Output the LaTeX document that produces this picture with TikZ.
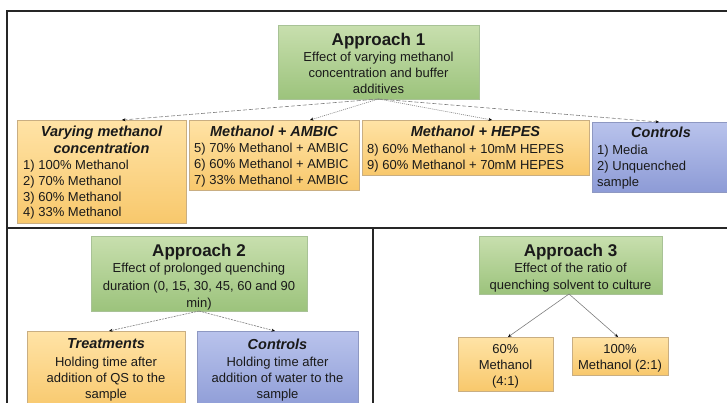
\documentclass[tikz,border=0pt]{standalone}
\usepackage{fontspec}
\setmainfont{Liberation Sans}
\usetikzlibrary{arrows.meta,calc}
\definecolor{gtop}{HTML}{C8DFAE}
\definecolor{gbot}{HTML}{9CC37C}
\definecolor{gbrd}{HTML}{A8C296}
\definecolor{otop}{HTML}{FFE3A6}
\definecolor{obot}{HTML}{F8C86C}
\definecolor{obrd}{HTML}{C9AE82}
\definecolor{btop}{HTML}{B9C3EC}
\definecolor{bbot}{HTML}{8D9BD6}
\definecolor{bbrd}{HTML}{8E98C2}
\definecolor{lnc}{HTML}{7E7E7E}
\definecolor{txt}{HTML}{1A1A1A}
\begin{document}
\begin{tikzpicture}[x=1pt,y=-1pt,
  boxbase/.style={rectangle,inner sep=0pt,outer sep=0pt,line width=0.6pt,anchor=north west},
  gbox/.style={boxbase,draw=gbrd,top color=gtop,bottom color=gbot},
  obox/.style={boxbase,draw=obrd,top color=otop,bottom color=obot},
  bbox/.style={boxbase,draw=bbrd,top color=btop,bottom color=bbot},
  apptitle/.style={anchor=north,inner sep=0pt,text=txt,font=\bfseries\fontsize{17}{20}\selectfont},
  boxtitle/.style={anchor=north,inner sep=0pt,text=txt,align=center,font=\bfseries\itshape\fontsize{14.5}{17}\selectfont},
  ctext/.style={anchor=north,inner sep=0pt,text=txt,align=center,font=\fontsize{13}{16}\selectfont},
  ltext/.style={anchor=north west,inner sep=0pt,text=txt,align=left,font=\fontsize{13}{15.7}\selectfont},
  tip/.style={-{Stealth[length=3.5pt,width=3pt,color=black]},color=lnc,line width=0.6pt},
  longdash/.style={tip,dash pattern=on 4pt off 2pt},
  dotline/.style={tip,dash pattern=on 1pt off 1pt},
  finedash/.style={tip,dash pattern=on 2pt off 1pt},
  frame/.style={draw=black!85,line width=1.5pt}
]
\useasboundingbox (0,0) rectangle (727,402);
\clip (0,0) rectangle (727,402);

% frame
\draw[frame] (730,11) -- (7,11) -- (7,405);
\draw[frame,line width=2.5pt] (7,228) -- (730,228);
\draw[frame] (373,228) -- (373,405);

% Approach 1
\node[gbox,minimum width=201pt,minimum height=74pt] (a1) at (278,25) {};
\node[apptitle] (a1t) at (378.5,32.5) {Approach 1};
\node[ctext] (a1b) at (378.5,52) {Effect of varying methanol\\concentration and buffer\\additives};

\node[obox,minimum width=169pt,minimum height=103pt] (b1) at (17,120) {};
\node[boxtitle] (b1t) at (101.5,126) {Varying methanol\\concentration};
\node[ltext] (b1b) at (23,160) {1) 100\% Methanol\\2) 70\% Methanol\\3) 60\% Methanol\\4) 33\% Methanol};

\node[obox,minimum width=170pt,minimum height=70pt] (b2) at (189,120) {};
\node[boxtitle] (b2t) at (274,126) {Methanol + AMBIC};
\node[ltext] (b2b) at (194,143) {5) 70\% Methanol + AMBIC\\6) 60\% Methanol + AMBIC\\7) 33\% Methanol + AMBIC};

\node[obox,minimum width=227pt,minimum height=55pt] (b3) at (362,120) {};
\node[boxtitle] (b3t) at (475.5,126) {Methanol + HEPES};
\node[ltext] (b3b) at (367,144) {8) 60\% Methanol + 10mM HEPES\\9) 60\% Methanol + 70mM HEPES};

\node[bbox,minimum width=140pt,minimum height=70pt] (b4) at (592,122) {};
\node[boxtitle] (b4t) at (661,127) {Controls};
\node[ltext] (b4b) at (597,145) {1) Media\\2) Unquenched\\sample};

\draw[longdash] (a1.south) -- ([xshift=20.5pt]b1.north);
\draw[dotline] (a1.south) -- ([xshift=36pt]b2.north);
\draw[dotline] (a1.south) -- ([xshift=16.5pt]b3.north);
\draw[longdash] (a1.south) -- ([xshift=-3pt]b4.north);

% Approach 2
\node[gbox,minimum width=216pt,minimum height=75pt] (a2) at (91,236) {};
\node[apptitle] (a2t) at (199,243.5) {Approach 2};
\node[ctext,font=\fontsize{13}{17.5}\selectfont] (a2b) at (199,263) {Effect of prolonged quenching\\duration (0, 15, 30, 45, 60 and 90\\min)};

\node[obox,minimum width=158pt,minimum height=80pt] (t2) at (27,331) {};
\node[boxtitle] (t2t) at (106,338.5) {Treatments};
\node[ctext,font=\fontsize{13}{15.7}\selectfont] (t2b) at (106,357) {Holding time after\\addition of QS to the\\sample};

\node[bbox,minimum width=161pt,minimum height=80pt] (c2) at (197,331) {};
\node[boxtitle] (c2t) at (277.5,338.5) {Controls};
\node[ctext,font=\fontsize{13}{15.7}\selectfont] (c2b) at (277.5,357) {Holding time after\\addition of water to the\\sample};

\draw[finedash] (a2.south) -- ([xshift=3pt]t2.north);
\draw[finedash] (a2.south) -- ([xshift=-2.5pt]c2.north);

% Approach 3
\node[gbox,minimum width=183pt,minimum height=58pt] (a3) at (479,236) {};
\node[apptitle] (a3t) at (570.5,243.5) {Approach 3};
\node[ctext,font=\fontsize{13}{17}\selectfont] (a3b) at (570.5,263) {Effect of the ratio of\\quenching solvent to culture};

\node[obox,minimum width=95pt,minimum height=54pt] (r1) at (458,337) {};
\node[ctext] (r1b) at (505.5,344) {60\%\\Methanol\\(4:1)};

\node[obox,minimum width=96pt,minimum height=38pt] (r2) at (572,337) {};
\node[ctext] (r2b) at (620,344) {100\%\\Methanol (2:1)};

\draw[tip] ([xshift=-1.5pt]a3.south) -- ([xshift=2.5pt]r1.north);
\draw[tip] ([xshift=-1.5pt]a3.south) -- ([xshift=-2pt]r2.north);
\end{tikzpicture}
\end{document}
